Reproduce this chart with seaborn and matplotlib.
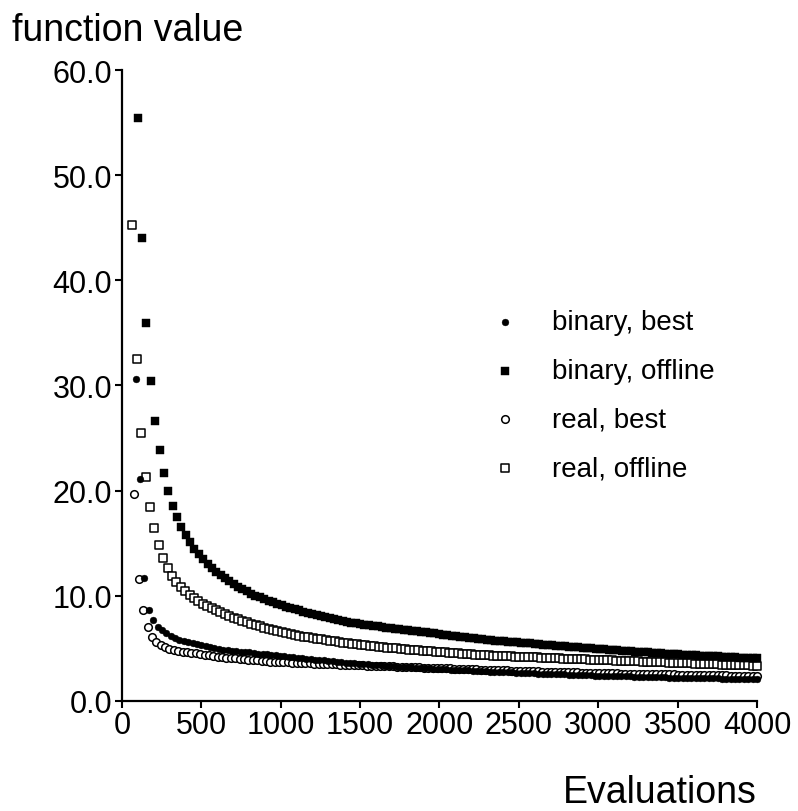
import numpy as np
import pandas as pd
import matplotlib
matplotlib.use("Agg")
import matplotlib.pyplot as plt
import seaborn as sns

# ---------------- data ----------------
series_names = ["binary, best", "binary, offline", "real, best", "real, offline"]
first_eval = [86, 99, 78, 65]   # evaluations of the first recorded point
last_eval = 4000

binary_best = [
    30.6, 21.1, 11.7, 8.6, 7.7, 7.05, 6.7, 6.45, 6.2, 6.0,
    5.8, 5.68, 5.57, 5.47, 5.37, 5.28, 5.19, 5.1, 5.01, 4.93,
    4.85, 4.81, 4.77, 4.72, 4.68, 4.63, 4.59, 4.54, 4.49, 4.45,
    4.4, 4.36, 4.31, 4.27, 4.22, 4.18, 4.13, 4.09, 4.04, 4.0,
    3.95, 3.91, 3.87, 3.83, 3.79, 3.75, 3.71, 3.67, 3.63, 3.59,
    3.55, 3.52, 3.49, 3.46, 3.43, 3.4, 3.37, 3.34, 3.31, 3.28,
    3.25, 3.22, 3.2, 3.17, 3.15, 3.12, 3.1, 3.07, 3.05, 3.02,
    3.0, 2.98, 2.96, 2.94, 2.92, 2.9, 2.88, 2.86, 2.84, 2.82,
    2.8, 2.78, 2.76, 2.75, 2.73, 2.71, 2.69, 2.67, 2.66, 2.64,
    2.62, 2.6, 2.59, 2.57, 2.56, 2.54, 2.53, 2.51, 2.5, 2.48,
    2.47, 2.46, 2.44, 2.43, 2.42, 2.4, 2.39, 2.38, 2.37, 2.35,
    2.34, 2.33, 2.32, 2.31, 2.3, 2.28, 2.27, 2.26, 2.25, 2.24,
    2.23, 2.22, 2.21, 2.2, 2.19, 2.18, 2.18, 2.17, 2.16, 2.15,
    2.14, 2.13, 2.12, 2.12, 2.11, 2.1, 2.09, 2.08, 2.08, 2.07,
    2.06, 2.06, 2.05,
]

binary_offline = [
    55.4, 44.0, 35.9, 30.4, 26.6, 23.9, 21.7, 20.0, 18.55, 17.45,
    16.5, 15.75, 15.07, 14.47, 13.94, 13.46, 13.03, 12.64, 12.29, 11.97,
    11.7, 11.4, 11.12, 10.86, 10.62, 10.4, 10.2, 10.01, 9.83, 9.66,
    9.5, 9.36, 9.22, 9.09, 8.96, 8.84, 8.72, 8.6, 8.48, 8.36,
    8.25, 8.15, 8.06, 7.97, 7.88, 7.79, 7.7, 7.61, 7.52, 7.43,
    7.35, 7.29, 7.23, 7.18, 7.12, 7.07, 7.01, 6.96, 6.9, 6.85,
    6.8, 6.75, 6.7, 6.65, 6.6, 6.55, 6.5, 6.45, 6.4, 6.35,
    6.3, 6.25, 6.2, 6.15, 6.1, 6.05, 6.0, 5.95, 5.9, 5.85,
    5.8, 5.76, 5.73, 5.69, 5.66, 5.62, 5.59, 5.55, 5.52, 5.48,
    5.45, 5.41, 5.38, 5.34, 5.31, 5.27, 5.24, 5.2, 5.17, 5.13,
    5.1, 5.07, 5.04, 5.01, 4.98, 4.95, 4.92, 4.89, 4.86, 4.83,
    4.8, 4.77, 4.74, 4.71, 4.68, 4.65, 4.62, 4.59, 4.56, 4.53,
    4.5, 4.48, 4.45, 4.43, 4.41, 4.39, 4.36, 4.34, 4.32, 4.29,
    4.27, 4.25, 4.23, 4.21, 4.19, 4.17, 4.15, 4.13, 4.11, 4.09,
    4.07, 4.05, 4.03,
]

real_best = [
    19.7, 11.6, 8.6, 7.0, 6.1, 5.6, 5.3, 5.1, 4.95, 4.85,
    4.75, 4.68, 4.62, 4.56, 4.5, 4.44, 4.38, 4.32, 4.26, 4.2,
    4.15, 4.11, 4.07, 4.03, 3.99, 3.95, 3.91, 3.87, 3.83, 3.79,
    3.75, 3.73, 3.71, 3.69, 3.67, 3.65, 3.63, 3.61, 3.59, 3.57,
    3.55, 3.53, 3.52, 3.5, 3.49, 3.47, 3.46, 3.44, 3.43, 3.41,
    3.4, 3.38, 3.37, 3.35, 3.34, 3.32, 3.31, 3.29, 3.28, 3.26,
    3.25, 3.23, 3.22, 3.2, 3.19, 3.17, 3.16, 3.14, 3.13, 3.11,
    3.1, 3.08, 3.07, 3.05, 3.04, 3.02, 3.01, 2.99, 2.98, 2.96,
    2.95, 2.94, 2.92, 2.91, 2.9, 2.88, 2.87, 2.86, 2.84, 2.83,
    2.82, 2.81, 2.8, 2.78, 2.77, 2.76, 2.75, 2.74, 2.72, 2.71,
    2.7, 2.69, 2.68, 2.67, 2.66, 2.65, 2.64, 2.63, 2.62, 2.61,
    2.6, 2.59, 2.58, 2.58, 2.57, 2.56, 2.55, 2.54, 2.54, 2.53,
    2.52, 2.51, 2.5, 2.5, 2.49, 2.48, 2.47, 2.46, 2.46, 2.45,
    2.44, 2.43, 2.43, 2.42, 2.41, 2.41, 2.4, 2.39, 2.38, 2.38,
    2.37, 2.37, 2.36,
]

real_offline = [
    45.3, 32.5, 25.5, 21.3, 18.4, 16.4, 14.8, 13.6, 12.6, 11.9,
    11.3, 10.85, 10.45, 10.1, 9.8, 9.5, 9.25, 9.0, 8.8, 8.6,
    8.4, 8.22, 8.05, 7.89, 7.74, 7.6, 7.46, 7.33, 7.2, 7.07,
    6.95, 6.85, 6.75, 6.65, 6.55, 6.46, 6.37, 6.28, 6.2, 6.11,
    6.03, 5.96, 5.9, 5.83, 5.77, 5.71, 5.65, 5.59, 5.53, 5.48,
    5.42, 5.37, 5.33, 5.28, 5.24, 5.19, 5.15, 5.1, 5.06, 5.01,
    4.97, 4.93, 4.9, 4.86, 4.83, 4.79, 4.76, 4.72, 4.69, 4.65,
    4.62, 4.59, 4.56, 4.53, 4.5, 4.47, 4.45, 4.42, 4.39, 4.36,
    4.33, 4.31, 4.29, 4.27, 4.26, 4.24, 4.22, 4.2, 4.18, 4.17,
    4.15, 4.13, 4.12, 4.1, 4.08, 4.06, 4.05, 4.03, 4.01, 4.0,
    3.98, 3.96, 3.95, 3.93, 3.92, 3.9, 3.88, 3.87, 3.85, 3.84,
    3.82, 3.8, 3.79, 3.77, 3.75, 3.74, 3.72, 3.7, 3.68, 3.67,
    3.65, 3.64, 3.62, 3.61, 3.59, 3.58, 3.56, 3.55, 3.53, 3.52,
    3.5, 3.49, 3.47, 3.46, 3.44, 3.43, 3.42, 3.4, 3.39, 3.37,
    3.36, 3.35, 3.33,
]

x_ticks = [0, 500, 1000, 1500, 2000, 2500, 3000, 3500, 4000]
y_ticks = [0, 10, 20, 30, 40, 50, 60]

# ---------------- build table ----------------
values = [binary_best, binary_offline, real_best, real_offline]
frames = []
for name, start, vals in zip(series_names, first_eval, values):
    frames.append(pd.DataFrame({
        "evaluations": np.linspace(start, last_eval, len(vals)),
        "value": vals,
        "series": name,
    }))
df = pd.concat(frames, ignore_index=True)

# ---------------- styling ----------------
sns.set_theme(style="white")
plt.rcParams["font.family"] = ["Liberation Sans", "DejaVu Sans"]
plt.rcParams["text.color"] = "black"

styles = {
    "binary, best": dict(marker="o", s=24, color="black", edgecolor="black", linewidth=0.3, zorder=4),
    "binary, offline": dict(marker="s", s=34, color="black", edgecolor="black", linewidth=0.3, zorder=3),
    "real, best": dict(marker="o", s=30, color="white", edgecolor="black", linewidth=1.1, zorder=2),
    "real, offline": dict(marker="s", s=34, color="white", edgecolor="black", linewidth=1.1, zorder=2),
}

fig = plt.figure(figsize=(7.98, 8.12), dpi=100)
ax = fig.add_axes([0.1529, 0.1358, 0.7957, 0.7767])

for name in series_names:
    sub = df[df["series"] == name]
    sns.scatterplot(data=sub, x="evaluations", y="value", ax=ax, label=name,
                    clip_on=False, **styles[name])

ax.set_xlim(0, 4000)
ax.set_ylim(0, 60)
ax.set_xticks(x_ticks)
ax.set_xticklabels([str(t) for t in x_ticks])
ax.set_yticks(y_ticks)
ax.set_yticklabels([f"{t:.1f}" for t in y_ticks])

sns.despine(ax=ax)
for sp in ["left", "bottom"]:
    ax.spines[sp].set_linewidth(1.6)
    ax.spines[sp].set_color("black")

ax.tick_params(axis="both", which="major", direction="out", length=5, width=1.5,
               colors="black", labelsize=22, bottom=True, left=True, pad=2)

ax.set_xlabel("Evaluations", fontsize=27, color="black", ha="right", va="center")
ax.xaxis.set_label_coords(1.0, -0.145)
ax.set_ylabel("function value", fontsize=27, color="black", rotation=0,
              ha="left", va="center")
ax.yaxis.set_label_coords(-0.173, 1.063)

ax.legend(loc="upper left", bbox_to_anchor=(0.615, 0.618),
          bbox_transform=fig.transFigure, frameon=False, fontsize=20,
          handlelength=1.0, handletextpad=1.2, labelspacing=0.82,
          borderpad=0, borderaxespad=0, scatterpoints=1, labelcolor="black")

fig.savefig("out.png", dpi=100)
